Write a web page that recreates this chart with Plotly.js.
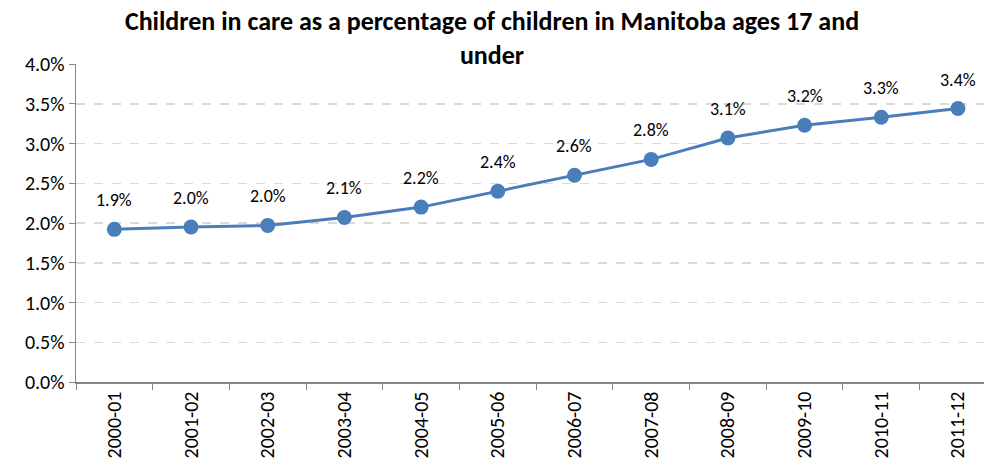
<!DOCTYPE html>
<html>
<head>
<meta charset="utf-8">
<script src="https://cdn.plot.ly/plotly-3.0.1.min.js"></script>
<style>html,body{margin:0;padding:0;background:#fff;}#chart{width:984px;height:467px;}</style>
</head>
<body>
<div id="chart"></div>
<script>
var years = ["2000-01","2001-02","2002-03","2003-04","2004-05","2005-06","2006-07","2007-08","2008-09","2009-10","2010-11","2011-12"];
var pct = [1.92, 1.95, 1.97, 2.07, 2.20, 2.40, 2.60, 2.80, 3.07, 3.23, 3.33, 3.44];
var pctLabels = ["1.9%","2.0%","2.0%","2.1%","2.2%","2.4%","2.6%","2.8%","3.1%","3.2%","3.3%","3.4%"];
var yTicks = [0,0.5,1,1.5,2,2.5,3,3.5,4];
var yTickText = ["0.0%","0.5%","1.0%","1.5%","2.0%","2.5%","3.0%","3.5%","4.0%"];

var font = "Carlito, 'Open Sans', 'Liberation Sans', sans-serif";

var trace = {
  x: years, y: pct, type: 'scatter', mode: 'lines+markers',
  line: {color: '#4a7ebb', width: 3},
  marker: {color: '#4a7ebb', size: 15},
  hoverinfo: 'skip'
};

var annotations = years.map(function(c, i){
  return {x: c, y: pct[i], text: pctLabels[i], showarrow: false, yshift: 29,
          font: {family: font, size: 18, color: '#000'}};
});

var layout = {
  width: 984, height: 467,
  margin: {l: 76, r: 0, t: 64, b: 85},
  paper_bgcolor: '#fff', plot_bgcolor: '#fff',
  showlegend: false,
  title: {text: "<b>Children in care as a percentage of children in Manitoba ages 17 and<br>under</b>",
          font: {family: font, size: 26, color: '#000'}, x: 0.5, xanchor: 'center', y: 0.935, yanchor: 'top'},
  xaxis: {type: 'category', range: [-0.5, 11.34], showgrid: false, zeroline: false,
          showline: true, linecolor: '#868686', linewidth: 1.5,
          ticks: 'outside', ticklen: 6, tickcolor: '#868686', tickson: 'boundaries',
          tickangle: -90, tickfont: {family: font, size: 20, color: '#000'}},
  yaxis: {range: [0, 4], tickvals: yTicks, ticktext: yTickText, showgrid: true,
          gridcolor: '#d9d9d9', griddash: 'dash', gridwidth: 1.5, zeroline: false,
          showline: true, linecolor: '#868686', linewidth: 1.5,
          ticks: 'outside', ticklen: 6, tickcolor: '#868686',
          tickfont: {family: font, size: 20, color: '#000'}},
  annotations: annotations
};

Plotly.newPlot('chart', [trace], layout, {displayModeBar: false, staticPlot: true});
</script>
</body>
</html>
